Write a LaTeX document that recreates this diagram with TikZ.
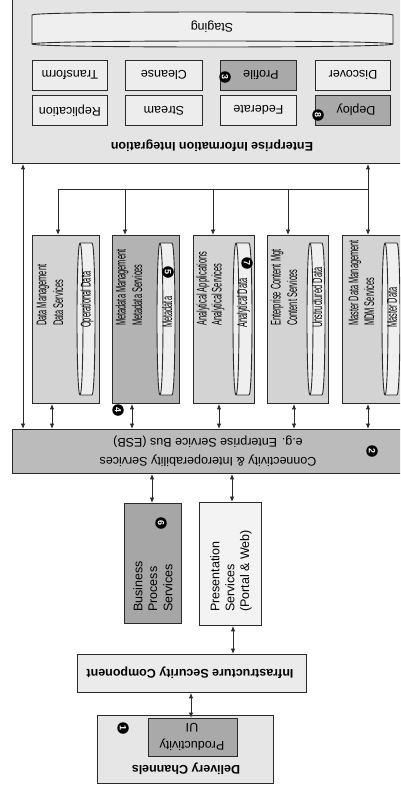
\documentclass[tikz,border=0pt]{standalone}
\usepackage{fontspec}
\setmainfont{Liberation Sans}
\usetikzlibrary{arrows.meta}
\definecolor{linec}{HTML}{2A2A2A}
\definecolor{eiibg}{HTML}{E4E4E4}
\definecolor{lightbox}{HTML}{EDEDED}
\definecolor{darkbox}{HTML}{A9A9A9}
\definecolor{svcbox}{HTML}{D3D3D3}
\definecolor{metabox}{HTML}{B3B3B3}
\definecolor{cylfill}{HTML}{EFEFEF}
\definecolor{esbfill}{HTML}{BBBBBB}
\definecolor{bpsfill}{HTML}{A6A6A6}
\definecolor{presfill}{HTML}{F3F3F3}
\definecolor{infrafill}{HTML}{EBEBEB}
\definecolor{delivfill}{HTML}{E6E6E6}
\newcommand\mybox[7]{\node[bx, fill=#6, minimum width={#4-#2}, minimum height={#5-#3}] (#1) at (#2,#3) {};\node[rotate=180] at (#1) {#7};}
\newcommand\rbox[6]{\node[bx, fill=#6, minimum width={#4-#2}, minimum height={#5-#3}] (#1) at (#2,#3) {};}
\newcommand\vcyl[5]{%
  \draw[cyl] (#2+3,#4) -- (#3-3,#4) .. controls (#3+1,#4) and (#3+1,#5) .. (#3-3,#5)
    -- (#2+3,#5) .. controls (#2-1,#5) and (#2-1,#4) .. (#2+3,#4) -- cycle;
  \draw[cylline] (#2+3,#4) .. controls (#2+7,#4) and (#2+7,#5) .. (#2+3,#5);
  \coordinate (#1) at ({(#2+#3)/2+1},328);}
\newcommand\sq[1]{\scalebox{0.53}[1]{#1}}
\newcommand\vt[3]{\node[vtext] at (#1,#2) {\sq{#3}};}
\newcommand\vtn[3]{\node[rotate=90, anchor=west] at (#1,#2) {#3};}
\begin{document}
\begin{tikzpicture}[x=1pt,y=-1pt,
  every node/.style={font=\fontsize{12.5}{15}\selectfont, inner sep=0pt, text=black},
  bx/.style={draw=linec, line width=0.9pt, anchor=north west},
  cyl/.style={draw=linec, line width=0.9pt, fill=cylfill},
  cylline/.style={draw=linec, line width=0.9pt},
  ln/.style={draw=linec, line width=0.9pt},
  vtext/.style={rotate=90, anchor=west, font=\fontsize{14}{16}\selectfont},
  arr/.style={ln, -{Latex[length=5.5pt,width=4.5pt]}},
  dbl/.style={ln, {Latex[length=5.5pt,width=4.5pt]}-{Latex[length=5.5pt,width=4.5pt]}},
  badge/.style={circle, fill=black, text=white, minimum size=11.5pt, inner sep=0pt,
    font=\fontsize{9}{9}\selectfont\bfseries},
  ttl/.style={font=\fontsize{12.5}{15}\selectfont\bfseries, rotate=180}]
\useasboundingbox (0,0) rectangle (400,793);
\clip (0,0) rectangle (400,793);
\fill[white] (0,0) rectangle (400,793);

% Enterprise Information Integration
\rbox{eii}{12}{-5}{412}{163}{eiibg}
\node[ttl] (eiit) at (212,146) {Enterprise Information Integration};
\draw[cyl] (32,15) .. controls (32,11) and (393,11) .. (393,15) -- (393,44)
  .. controls (393,48) and (32,48) .. (32,44) -- cycle;
\draw[cylline] (32,44) .. controls (32,40) and (393,40) .. (393,44);
\node[rotate=180] (stg) at (212,27) {Staging};
\mybox{tr}{32}{60}{107}{90}{lightbox}{Transform}
\mybox{cl}{125}{60}{202}{90}{lightbox}{Cleanse}
\rbox{pr}{220}{60}{296}{90}{darkbox}
\node[rotate=180] at (261,75) {Profile};
\mybox{di}{315}{60}{390}{90}{lightbox}{Discover}
\mybox{re}{32}{95}{107}{125}{lightbox}{Replication}
\mybox{st}{125}{95}{202}{125}{lightbox}{Stream}
\mybox{fe}{220}{95}{296}{125}{lightbox}{Federate}
\rbox{de}{315}{95}{390}{125}{darkbox}
\node[rotate=180] at (356,110) {Deploy};
\node[badge] (b3) at (225,77) {\rotatebox{-90}{3}};
\node[badge] (b8) at (318,115) {\rotatebox{-90}{8}};

% Service boxes
\rbox{dm}{32}{235}{99}{403}{svcbox}
\rbox{md}{112}{235}{179}{403}{metabox}
\rbox{aa}{193}{235}{254}{403}{svcbox}
\rbox{ec}{267}{235}{328}{403}{svcbox}
\rbox{mdm}{342}{235}{412}{403}{svcbox}
\vcyl{c1}{77}{95}{243}{395}
\vcyl{c2}{157}{175}{243}{395}
\vcyl{c3}{233}{252}{243}{395}
\vcyl{c4}{307}{325}{243}{395}
\vcyl{c5}{382}{400}{243}{395}
\vt{43}{326}{Data Management}
\vt{58}{326}{Data Services}
\vt{122}{326}{Metadata Management}
\vt{137}{326}{Metadata Services}
\vt{203}{326}{Analytical Applications}
\vt{218}{326}{Analytical Services}
\vt{277}{326}{Enterprise Content Mgt}
\vt{292}{326}{Content Services}
\vt{355}{326}{Master Data Management}
\vt{369}{326}{MDM Services}
\node[vtext] at (c1) {\sq{Operational Data}};
\node[vtext] at (c2) {\sq{Metadata}};
\node[vtext] at (c3) {\sq{Analytical Data}};
\node[vtext] at (c4) {\sq{Unstructured Data}};
\node[vtext] at (c5) {\sq{Master Data}};
\node[badge] (b5) at (168,272) {\rotatebox{-90}{5}};
\node[badge] (b7) at (247,263) {\rotatebox{-90}{7}};
\node[badge] (b4) at (118,410) {\rotatebox{-90}{4}};

% ESB
\rbox{esb}{12}{429}{412}{473}{esbfill}
\node[rotate=180] (esbt1) at (208,461) {Connectivity \& Interoperability Services};
\node[rotate=180] (esbt2) at (208,442) {e.g. Enterprise Service Bus (ESB)};
\node[badge] (b2) at (372,451) {\rotatebox{-90}{2}};

% BPS and Presentation
\rbox{bps}{124}{503}{181}{623}{bpsfill}
\rbox{pres}{199}{502}{261}{625}{presfill}
\vtn{138}{612}{Business}
\vtn{153}{612}{Process}
\vtn{168}{612}{Services}
\vtn{215}{612}{Presentation}
\vtn{230}{612}{Services}
\vtn{246}{612}{(Portal \& Web)}
\node[badge] (b6) at (161,523) {\rotatebox{-90}{6}};

% Infrastructure
\rbox{infra}{77}{654}{306}{692}{infrafill}
\node[ttl] (infrat) at (190,673) {Infrastructure Security Component};

% Delivery
\rbox{deliv}{97}{715}{273}{783}{delivfill}
\node[ttl] (delivt) at (186,769) {Delivery Channels};
\rbox{pui}{148}{718}{237}{756}{darkbox}
\node[rotate=180] (puit1) at (192,745) {Productivity};
\node[rotate=180] (puit2) at (192,728) {UI};
\node[badge] (b1) at (123,728) {\rotatebox{-90}{1}};

% coordinates for connectors
\coordinate (xL) at (23,0);
\coordinate (xR) at (368,0);
\coordinate (busL) at (58,189);
\coordinate (bus2) at (125,189);
\coordinate (bus3) at (213,189);
\coordinate (bus4) at (288,189);
\coordinate (busR) at (368,189);
\coordinate (s1) at (52,0);
\coordinate (s2) at (132,0);
\coordinate (s3) at (219,0);
\coordinate (s4) at (294,0);
\coordinate (s5) at (368,0);
\coordinate (e1) at (152,0);
\coordinate (e2) at (232,0);
\coordinate (p1) at (233,0);
\coordinate (i1) at (191,0);

\draw[dbl] (eii.south -| xL) -- (esb.north -| xL);
\draw[dbl] (eii.south -| xR) -- (mdm.north -| xR);
\draw[ln] (busL) -- (busR);
\draw[arr] (busL) -- (dm.north -| busL);
\draw[arr] (bus2) -- (md.north -| bus2);
\draw[arr] (bus3) -- (aa.north -| bus3);
\draw[arr] (bus4) -- (ec.north -| bus4);
\draw[dbl] (dm.south -| s1) -- (esb.north -| s1);
\draw[dbl] (md.south -| s2) -- (esb.north -| s2);
\draw[dbl] (aa.south -| s3) -- (esb.north -| s3);
\draw[dbl] (ec.south -| s4) -- (esb.north -| s4);
\draw[dbl] (mdm.south -| s5) -- (esb.north -| s5);
\draw[dbl] (esb.south -| e1) -- (bps.north -| e1);
\draw[dbl] (esb.south -| e2) -- (pres.north -| e2);
\draw[dbl] (pres.south -| p1) -- (infra.north -| p1);
\draw[dbl] (infra.south -| i1) -- (pui.north -| i1);
\end{tikzpicture}
\end{document}
